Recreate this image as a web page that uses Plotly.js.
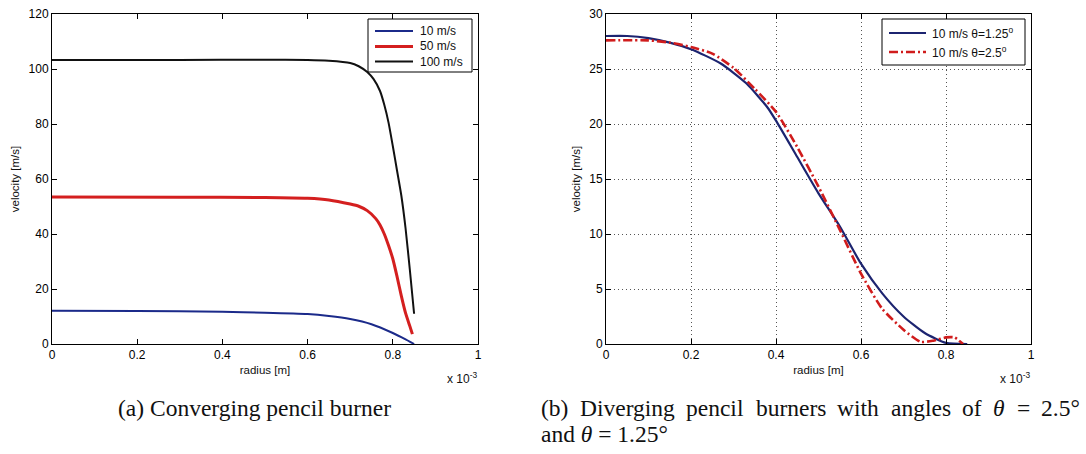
<!DOCTYPE html>
<html>
<head>
<meta charset="utf-8">
<script src="https://cdn.plot.ly/plotly-3.0.1.min.js"></script>
<style>html,body{margin:0;padding:0;background:#fff;}#chart{width:1086px;height:454px;}</style>
</head>
<body>
<div id="chart"></div>
<script>
// ---- Data (radius in units of 1e-3 m, velocity in m/s) ----
// (a) Converging pencil burner
const convLabels = ["10 m/s", "50 m/s", "100 m/s"];
const conv10_r = [0, 0.2, 0.4, 0.5, 0.6, 0.65, 0.7, 0.75, 0.8, 0.83, 0.85];
const conv10_v = [12.1, 12.0, 11.7, 11.4, 10.9, 10.2, 9.1, 7.2, 4.0, 1.7, 0];
const conv50_r = [0, 0.3, 0.5, 0.6, 0.65, 0.7, 0.72, 0.74, 0.76, 0.77, 0.78, 0.79, 0.8, 0.81, 0.82, 0.83, 0.84, 0.846];
const conv50_v = [53.5, 53.4, 53.3, 53.0, 52.4, 50.9, 50.1, 48.5, 45.6, 43.3, 40.0, 35.8, 31.0, 24.5, 17.5, 11.2, 6.5, 3.6];
const conv100_r = [0, 0.3, 0.5, 0.6, 0.65, 0.7, 0.72, 0.74, 0.755, 0.77, 0.78, 0.79, 0.8, 0.81, 0.82, 0.83, 0.84, 0.85];
const conv100_v = [103.3, 103.3, 103.4, 103.3, 103.0, 102.2, 101.0, 98.9, 96.3, 92.0, 87.0, 80.5, 72.0, 63.0, 54.0, 42.0, 27.0, 11.0];

// (b) Diverging pencil burners
const divLabels = ["10 m/s \u03b8=1.25<sup>o</sup>", "10 m/s \u03b8=2.5<sup>o</sup>"];
const div125_r = [0, 0.05, 0.1, 0.15, 0.2, 0.27, 0.33, 0.38, 0.4, 0.45, 0.5, 0.55, 0.6, 0.65, 0.7, 0.75, 0.8, 0.85];
const div125_v = [28.0, 28.0, 27.8, 27.4, 26.8, 25.5, 23.7, 21.5, 20.3, 17.0, 13.7, 10.7, 7.3, 4.6, 2.5, 1.0, 0.1, 0];
const div25_r = [0, 0.1, 0.15, 0.2, 0.25, 0.3, 0.35, 0.4, 0.45, 0.5, 0.55, 0.6, 0.65, 0.7, 0.74, 0.77, 0.8, 0.82, 0.84];
const div25_v = [27.6, 27.6, 27.4, 27.0, 26.4, 25.1, 23.2, 21.1, 17.9, 14.3, 10.4, 6.4, 3.2, 1.3, 0.2, 0.3, 0.6, 0.6, 0];

// tick values
const xTicks = [0, 0.2, 0.4, 0.6, 0.8, 1];
const xTickText = ["0", "0.2", "0.4", "0.6", "0.8", "1"];
const yTicksA = [0, 20, 40, 60, 80, 100, 120];
const yTicksB = [0, 5, 10, 15, 20, 25, 30];

// captions
const captionA = "(a) Converging pencil burner";
const captionB1 = ["(b)", "Diverging", "pencil", "burners", "with", "angles", "of", "<i>\u03b8</i>", "=", "2.5\u00b0"];
const captionB2 = "and <i>\u03b8</i> = 1.25\u00b0";

// ---- Figure ----
const W = 1086, H = 454;
const px = v => v / W;
const py = v => 1 - v / H;
const SANS = 'Liberation Sans, Arial, sans-serif';
const SERIF = 'Liberation Serif, Times New Roman, serif';
const CAP_SIZE = 23.5;

const styleA = [
  {color: '#1b2a8a', width: 2},
  {color: '#d41f1f', width: 3},
  {color: '#111111', width: 2}
];
const styleB = [
  {color: '#1c2470', width: 2.2},
  {color: '#d01c1c', width: 2.6, dash: '9px,3px,2px,3px'}
];

const traces = [
  {x: conv10_r, y: conv10_v, name: convLabels[0], xaxis: 'x', yaxis: 'y', line: styleA[0]},
  {x: conv50_r, y: conv50_v, name: convLabels[1], xaxis: 'x', yaxis: 'y', line: styleA[1]},
  {x: conv100_r, y: conv100_v, name: convLabels[2], xaxis: 'x', yaxis: 'y', line: styleA[2]},
  {x: div125_r, y: div125_v, name: divLabels[0], xaxis: 'x2', yaxis: 'y2', line: styleB[0]},
  {x: div25_r, y: div25_v, name: divLabels[1], xaxis: 'x2', yaxis: 'y2', line: styleB[1]}
].map(t => Object.assign(t, {
  mode: 'lines', showlegend: false,
  line: Object.assign({shape: 'spline', smoothing: 0.6}, t.line)
}));

const tickFont = {family: SANS, size: 12, color: '#000'};
const titleFont = {family: SANS, size: 11.5, color: '#111'};
const axBase = {
  showline: true, linecolor: '#000', linewidth: 1, mirror: 'ticks',
  ticks: 'inside', ticklen: 5, tickcolor: '#000', tickwidth: 1,
  zeroline: false, tickfont: tickFont, fixedrange: true
};

// ---- Legends (boxes drawn in paper space, entries from the label arrays) ----
const shapes = [];
const annotations = [];
function addLegend(box, lineX0, lineX1, textX, rowsY, labels, styles) {
  shapes.push({type: 'rect', xref: 'paper', yref: 'paper',
    x0: px(box[0]), x1: px(box[1]), y0: py(box[3]), y1: py(box[2]),
    line: {color: '#000', width: 1}, fillcolor: '#fff', layer: 'above'});
  labels.forEach((lab, i) => {
    shapes.push({type: 'line', xref: 'paper', yref: 'paper',
      x0: px(lineX0), x1: px(lineX1), y0: py(rowsY[i]), y1: py(rowsY[i]),
      line: {color: styles[i].color, width: styles[i].width, dash: styles[i].dash || 'solid'}, layer: 'above'});
    annotations.push({xref: 'paper', yref: 'paper', x: px(textX), y: py(rowsY[i]),
      xanchor: 'left', yanchor: 'middle', showarrow: false, text: lab,
      font: {family: SANS, size: 12, color: '#111'}});
  });
}
addLegend([368, 472, 19, 72], 375, 413, 418, [31, 46.5, 61.5], convLabels, styleA);
addLegend([882, 1025, 19, 65], 889, 926, 930, [33, 52], divLabels, styleB);

annotations.push(
  {xref: 'paper', yref: 'paper', x: px(479), y: py(378), xanchor: 'right', yanchor: 'middle', showarrow: false,
   text: 'x 10<sup>-3</sup>', font: {family: SANS, size: 12, color: '#111'}},
  {xref: 'paper', yref: 'paper', x: px(1032), y: py(378), xanchor: 'right', yanchor: 'middle', showarrow: false,
   text: 'x 10<sup>-3</sup>', font: {family: SANS, size: 12, color: '#111'}},
  {xref: 'paper', yref: 'paper', x: px(116), y: py(408), xanchor: 'left', yanchor: 'middle', showarrow: false,
   text: captionA, font: {family: SERIF, size: CAP_SIZE, color: '#111'}},
  {xref: 'paper', yref: 'paper', x: px(539), y: py(434), xanchor: 'left', yanchor: 'middle', showarrow: false,
   text: captionB2, font: {family: SERIF, size: CAP_SIZE, color: '#111'}}
);

// justified first line of caption (b), words spread between x=541 and x=1080
(function () {
  const ctx = document.createElement('canvas').getContext('2d');
  const widths = captionB1.map(w => {
    const italic = w.indexOf('<i>') === 0;
    ctx.font = (italic ? 'italic ' : '') + CAP_SIZE + 'px "Liberation Serif"';
    return ctx.measureText(w.replace(/<[^>]+>/g, '')).width;
  });
  const left = 541, right = 1080;
  const total = widths.reduce((a, b) => a + b, 0);
  const gap = (right - left - total) / (captionB1.length - 1);
  let x = left;
  captionB1.forEach((w, i) => {
    annotations.push({xref: 'paper', yref: 'paper', x: px(x + widths[i] / 2), y: py(408),
      xanchor: 'center', yanchor: 'middle', showarrow: false, text: w,
      font: {family: SERIF, size: CAP_SIZE, color: '#111'}});
    x += widths[i] + gap;
  });
})();

const layout = {
  width: W, height: H,
  margin: {l: 0, r: 0, t: 0, b: 0},
  paper_bgcolor: '#fff', plot_bgcolor: '#fff',
  showlegend: false,
  xaxis: Object.assign({}, axBase, {
    domain: [px(52), px(478)], range: [0, 1], tickvals: xTicks, ticktext: xTickText,
    showgrid: false, anchor: 'y',
    title: {text: 'radius [m]', font: titleFont, standoff: 4}
  }),
  yaxis: Object.assign({}, axBase, {
    domain: [py(344), py(14)], range: [0, 120], tickvals: yTicksA,
    showgrid: false, anchor: 'x',
    title: {text: 'velocity [m/s]', font: titleFont, standoff: 6}
  }),
  xaxis2: Object.assign({}, axBase, {
    domain: [px(606), px(1031)], range: [0, 1], tickvals: xTicks, ticktext: xTickText,
    showgrid: true, gridcolor: '#555', griddash: '1px,3px', gridwidth: 1, anchor: 'y2',
    title: {text: 'radius [m]', font: titleFont, standoff: 4}
  }),
  yaxis2: Object.assign({}, axBase, {
    domain: [py(344), py(14)], range: [0, 30], tickvals: yTicksB,
    showgrid: true, gridcolor: '#555', griddash: '1px,3px', gridwidth: 1, anchor: 'x2',
    title: {text: 'velocity [m/s]', font: titleFont, standoff: 6}
  }),
  shapes: shapes,
  annotations: annotations
};

Plotly.newPlot('chart', traces, layout, {displayModeBar: false, staticPlot: true});
</script>
</body>
</html>
